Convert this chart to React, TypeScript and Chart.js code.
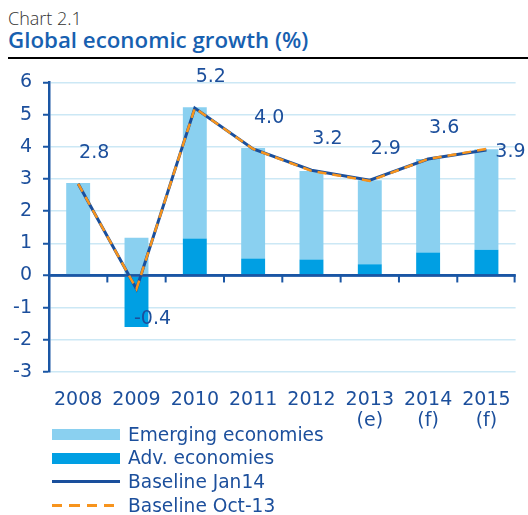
import React, { useEffect, useRef } from "react";
import { Chart, registerables } from "chart.js";

Chart.register(...registerables);

const CATEGORIES: string[][] = [
  ["2008"], ["2009"], ["2010"], ["2011"], ["2012"],
  ["2013", "(e)"], ["2014", "(f)"], ["2015", "(f)"],
];
const EMERGING = [2.87, 1.17, 4.08, 3.43, 2.75, 2.61, 2.91, 3.12];
const ADVANCED = [0, -1.6, 1.15, 0.53, 0.5, 0.35, 0.71, 0.8];
const BASELINE_JAN14 = [2.85, -0.42, 5.2, 3.93, 3.27, 2.96, 3.62, 3.9];
const BASELINE_OCT13 = [2.85, -0.42, 5.2, 3.93, 3.25, 2.94, 3.62, 3.93];
const GROWTH_LABELS = ["2.8", "-0.4", "5.2", "4.0", "3.2", "2.9", "3.6", "3.9"];
const SERIES_NAMES = ["Emerging economies", "Adv. economies", "Baseline Jan14", "Baseline Oct-13"];
const Y_MIN = -3;
const Y_MAX = 6;

const C_EMERGING = "#8ad0f0";
const C_ADV = "#009fe3";
const C_JAN = "#1a4f9c";
const C_OCT = "#f7941d";
const C_TEXT = "#1c4f9c";
const C_GRID = "#cce8f5";
const C_AXIS = "#1a56a4";
const FONT = "'DejaVu Sans', Verdana, sans-serif";

const overlayPlugin = {
  id: "overlay",
  afterDatasetDraw(chart: any, args: any) {
    if (args.index !== 1) return;
    const { ctx, chartArea } = chart;
    const y0 = chart.scales.y.getPixelForValue(0);
    const xs = chart.scales.x;
    ctx.save();
    ctx.strokeStyle = C_AXIS;
    ctx.lineWidth = 2.5;
    ctx.beginPath();
    ctx.moveTo(chartArea.left, y0);
    ctx.lineTo(chartArea.right, y0);
    ctx.stroke();
    ctx.lineWidth = 2;
    const n = CATEGORIES.length;
    for (let i = 1; i <= n; i++) {
      const x = i < n ? (xs.getPixelForValue(i - 1) + xs.getPixelForValue(i)) / 2 : chartArea.right - 1;
      ctx.beginPath();
      ctx.moveTo(x, y0);
      ctx.lineTo(x, y0 + 7);
      ctx.stroke();
    }
    ctx.restore();
  },
  afterDatasetsDraw(chart: any) {
    const { ctx } = chart;
    const meta = chart.getDatasetMeta(2);
    ctx.save();
    ctx.fillStyle = C_TEXT;
    ctx.font = `19px ${FONT}`;
    ctx.textAlign = "center";
    ctx.textBaseline = "middle";
    GROWTH_LABELS.forEach((txt, i) => {
      const pt = meta.data[i];
      if (!pt) return;
      let x = pt.x + 16;
      let y = pt.y - 31;
      if (BASELINE_JAN14[i] < 0) y = pt.y + 30;
      if (i === GROWTH_LABELS.length - 1) { x = pt.x + 24; y = pt.y + 2; }
      ctx.fillText(txt, x, y);
    });
    ctx.restore();
  },
};

function ChartCanvas() {
  const ref = useRef<HTMLCanvasElement | null>(null);
  useEffect(() => {
    if (!ref.current) return;
    const chart = new Chart(ref.current, {
      type: "bar",
      data: {
        labels: CATEGORIES as any,
        datasets: [
          {
            type: "bar",
            label: SERIES_NAMES[0],
            data: EMERGING,
            backgroundColor: C_EMERGING,
            stack: "bars",
            order: 3,
            barPercentage: 0.41,
            categoryPercentage: 1,
          },
          {
            type: "bar",
            label: SERIES_NAMES[1],
            data: ADVANCED,
            backgroundColor: C_ADV,
            stack: "bars",
            order: 2,
            barPercentage: 0.41,
            categoryPercentage: 1,
          },
          {
            type: "line",
            label: SERIES_NAMES[2],
            data: BASELINE_JAN14,
            borderColor: C_JAN,
            borderWidth: 3,
            pointRadius: 0,
            tension: 0,
            stack: "jan",
            order: 1,
          },
          {
            type: "line",
            label: SERIES_NAMES[3],
            data: BASELINE_OCT13,
            borderColor: C_OCT,
            borderWidth: 2.5,
            borderDash: [9, 6],
            pointRadius: 0,
            tension: 0,
            stack: "oct",
            order: 0,
          },
        ] as any,
      },
      options: {
        responsive: false,
        animation: false,
        layout: { padding: { top: 20, right: 6, left: 0, bottom: 0 } },
        plugins: { legend: { display: false }, tooltip: { enabled: false } },
        scales: {
          x: {
            stacked: true,
            grid: { display: false, drawTicks: false },
            border: { display: false },
            ticks: {
              color: C_TEXT,
              font: { family: FONT, size: 19, lineHeight: 1.12 },
              padding: 17,
              maxRotation: 0,
              autoSkip: false,
            },
            afterFit: (s: any) => { s.height = 60; },
          },
          y: {
            stacked: true,
            min: Y_MIN,
            max: Y_MAX,
            ticks: {
              stepSize: 1,
              color: C_TEXT,
              font: { family: FONT, size: 19 },
              padding: 11,
            },
            grid: {
              color: (c: any) => (c.tick && c.tick.value === 0 ? C_AXIS : C_GRID),
              lineWidth: (c: any) => (c.tick && c.tick.value === 0 ? 2.5 : 1.5),
              tickColor: C_AXIS,
              tickWidth: 2,
              tickLength: 6,
            },
            border: { display: true, color: C_AXIS, width: 2.5 },
            afterFit: (s: any) => { s.width = 49; },
          },
        },
      } as any,
      plugins: [overlayPlugin],
    });
    return () => chart.destroy();
  }, []);
  return <canvas ref={ref} width={528} height={372} style={{ display: "block", width: 528, height: 372 }} />;
}

function LegendRow({ kind, color, label }: { kind: string; color: string; label: string }) {
  let swatch: React.ReactNode;
  if (kind === "bar") {
    swatch = <div style={{ width: 68, height: 11, background: color }} />;
  } else if (kind === "line") {
    swatch = <div style={{ width: 68, height: 3, background: color }} />;
  } else {
    swatch = (
      <div
        style={{
          width: 63,
          height: 3,
          background: `repeating-linear-gradient(to right, ${color} 0 10.5px, transparent 10.5px 17.3px)`,
        }}
      />
    );
  }
  return (
    <div style={{ display: "flex", alignItems: "center", height: 23.7 }}>
      <div style={{ width: 76, display: "flex", alignItems: "center" }}>{swatch}</div>
      <span style={{ fontFamily: FONT, fontSize: 18.6, color: C_TEXT, lineHeight: "23.7px", whiteSpace: "nowrap" }}>{label}</span>
    </div>
  );
}

export default function App() {
  useEffect(() => {
    document.body.style.overflow = "hidden";
  }, []);
  return (
    <div style={{ position: "absolute", left: 0, top: 0, width: 528, height: 515, overflow: "hidden", background: "#fff" }}>
      <div style={{ position: "absolute", left: 8, top: 8, fontFamily: "'Open Sans', sans-serif", fontWeight: 300, fontSize: 18, lineHeight: "20px", color: "#333" }}>
        Chart 2.1
      </div>
      <div style={{ position: "absolute", left: 8, top: 26, fontFamily: "'Open Sans', sans-serif", fontWeight: 600, fontSize: 22.3, lineHeight: "27px", color: "#1760b0", whiteSpace: "nowrap" }}>
        Global economic growth (%)
      </div>
      <div style={{ position: "absolute", left: 8, top: 56.5, width: 520, height: 2.5, background: "#000" }} />
      <div style={{ position: "absolute", left: 0, top: 60 }}>
        <ChartCanvas />
      </div>
      <div style={{ position: "absolute", left: 52, top: 422.6 }}>
        <LegendRow kind="bar" color={C_EMERGING} label={SERIES_NAMES[0]} />
        <LegendRow kind="bar" color={C_ADV} label={SERIES_NAMES[1]} />
        <LegendRow kind="line" color={C_JAN} label={SERIES_NAMES[2]} />
        <LegendRow kind="dash" color={C_OCT} label={SERIES_NAMES[3]} />
      </div>
    </div>
  );
}
